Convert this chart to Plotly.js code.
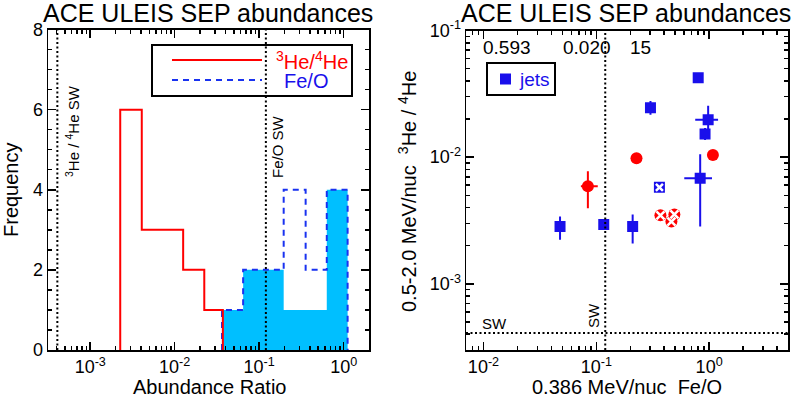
<!DOCTYPE html>
<html><head><meta charset="utf-8">
<script src="https://cdn.plot.ly/plotly-3.0.1.min.js"></script>
<style>html,body{margin:0;padding:0;background:#fff}#chart{width:793px;height:399px}</style>
</head><body><div id="chart"></div>
<script>
// ---- Left panel: histograms ----
const HE_EDGES = [0.002265, 0.004074, 0.007244, 0.01259, 0.02239, 0.03715];
const HE_COUNTS = [6, 3, 3, 2, 1];
const FEO_EDGES = [0.0363, 0.06457, 0.1148, 0.195, 0.3548, 0.631, 1.114];
const FEO_COUNTS = [1, 2, 2, 4, 2, 4];
const FEO_JET_COUNTS = [1, 2, 2, 1, 1, 4];
const SW_HE = 4.08e-4;
const SW_FEO = 0.12;

// ---- Right panel: events ----
const JET_FEO    = [0.80,   0.302,  0.98,   0.92,    0.833,   0.1164,  0.21,    0.0477];
const JET_HE     = [0.0424, 0.0245, 0.0197, 0.0152,  0.00681, 0.00294, 0.00283, 0.00283];
const JET_FEO_LO = [0.80,   0.302,  0.753,  0.92,    0.602,   0.1164,  0.21,    0.0477];
const JET_FEO_HI = [0.80,   0.302,  1.20,   0.92,    1.06,    0.1164,  0.21,    0.0477];
const JET_HE_LO  = [0.0424, 0.0216, 0.0147, 0.01365, 0.00283, 0.00294, 0.00208, 0.00223];
const JET_HE_HI  = [0.0424, 0.0278, 0.0254, 0.0170,  0.01056, 0.00294, 0.00353, 0.0034];
const JETX_FEO = [0.3625];
const JETX_HE  = [0.00578];

const RED_FEO    = [0.227,  1.08,   0.0842];
const RED_HE     = [0.0098, 0.0104, 0.00589];
const RED_FEO_LO = [0.227,  1.08,   0.073];
const RED_FEO_HI = [0.227,  1.08,   0.103];
const RED_HE_LO  = [0.0098, 0.0104, 0.00394];
const RED_HE_HI  = [0.0098, 0.0104, 0.00774];
const REDX_FEO = [0.37,   0.463,  0.492];
const REDX_HE  = [0.00347, 0.0031, 0.00353];

const STATS = ['0.593', '0.020', '15'];
const X1_TICKS = [1e-3, 1e-2, 1e-1, 1];
const X1_TEXT = ['10<sup>-3</sup>', '10<sup>-2</sup>', '10<sup>-1</sup>', '10<sup>0</sup>'];
const X2_TICKS = [1e-2, 1e-1, 1];
const X2_TEXT = ['10<sup>-2</sup>', '10<sup>-1</sup>', '10<sup>0</sup>'];
const Y2_TICKS = [1e-3, 1e-2, 1e-1];
const Y2_TEXT = ['10<sup>-3</sup>', '10<sup>-2</sup>', '10<sup>-1</sup>'];

const BLUE = 'rgb(25,15,235)';
const DBLUE = 'rgb(25,50,240)';
const RED = 'rgb(255,0,0)';
const CYAN = 'rgb(0,191,255)';
const W = 793, H = 399;
const px = x => x / W, py = y => 1 - y / H;

function stepPath(edges, counts) {
  const xs = [edges[0]], ys = [0];
  for (let i = 0; i < counts.length; i++) {
    xs.push(edges[i], edges[i + 1]);
    ys.push(counts[i], counts[i]);
  }
  xs.push(edges[edges.length - 1]); ys.push(0);
  return {xs, ys};
}
function minorVals(lo, hi) {
  const v = [];
  for (let e = lo; e <= hi; e++) for (let m = 2; m <= 9; m++) v.push(m * Math.pow(10, e));
  return v;
}
const diff = (a, b) => a.map((v, i) => v - b[i]);

const jetPath = stepPath(FEO_EDGES, FEO_JET_COUNTS);
const feoPath = stepPath(FEO_EDGES, FEO_COUNTS);
const hePath = stepPath(HE_EDGES, HE_COUNTS);

const traces = [
  {x: jetPath.xs, y: jetPath.ys, xaxis: 'x', yaxis: 'y', mode: 'lines', fill: 'toself',
   fillcolor: CYAN, line: {width: 0, color: CYAN}, hoverinfo: 'skip'},
  {x: feoPath.xs, y: feoPath.ys, xaxis: 'x', yaxis: 'y', mode: 'lines',
   line: {width: 2, color: DBLUE, dash: '6px,5px'}},
  {x: hePath.xs, y: hePath.ys, xaxis: 'x', yaxis: 'y', mode: 'lines',
   line: {width: 2, color: RED}},
  // right panel
  {x: JET_FEO, y: JET_HE, xaxis: 'x2', yaxis: 'y2', mode: 'markers',
   marker: {symbol: 'square', size: 11, color: BLUE},
   error_x: {type: 'data', symmetric: false, array: diff(JET_FEO_HI, JET_FEO), arrayminus: diff(JET_FEO, JET_FEO_LO), color: BLUE, thickness: 2, width: 0},
   error_y: {type: 'data', symmetric: false, array: diff(JET_HE_HI, JET_HE), arrayminus: diff(JET_HE, JET_HE_LO), color: BLUE, thickness: 2, width: 0}},
  {x: RED_FEO, y: RED_HE, xaxis: 'x2', yaxis: 'y2', mode: 'markers',
   marker: {symbol: 'circle', size: 12, color: RED},
   error_x: {type: 'data', symmetric: false, array: diff(RED_FEO_HI, RED_FEO), arrayminus: diff(RED_FEO, RED_FEO_LO), color: RED, thickness: 2, width: 0},
   error_y: {type: 'data', symmetric: false, array: diff(RED_HE_HI, RED_HE), arrayminus: diff(RED_HE, RED_HE_LO), color: RED, thickness: 2, width: 0}},
  {x: JETX_FEO, y: JETX_HE, xaxis: 'x2', yaxis: 'y2', mode: 'markers',
   marker: {symbol: 'square', size: 11, color: BLUE}},
  {x: JETX_FEO, y: JETX_HE, xaxis: 'x2', yaxis: 'y2', mode: 'markers',
   marker: {symbol: 'x-thin-open', size: 7, color: 'white', line: {color: 'white', width: 2.5}}},
  {x: REDX_FEO, y: REDX_HE, xaxis: 'x2', yaxis: 'y2', mode: 'markers',
   marker: {symbol: 'circle', size: 12, color: RED}},
  {x: REDX_FEO, y: REDX_HE, xaxis: 'x2', yaxis: 'y2', mode: 'markers',
   marker: {symbol: 'x-thin-open', size: 8, color: 'white', line: {color: 'white', width: 2.5}}}
];

const axCommon = {
  ticks: 'inside', ticklen: 8, tickwidth: 1.5, tickcolor: 'black',
  showline: true, linewidth: 1.5, linecolor: 'black', mirror: 'ticks',
  showgrid: false, zeroline: false, tickfont: {size: 18, color: 'black'}
};

const layout = {
  width: W, height: H, margin: {l: 0, r: 0, t: 0, b: 0},
  showlegend: false, paper_bgcolor: 'white', plot_bgcolor: 'white',
  font: {family: 'Liberation Sans, Arial, sans-serif', color: 'black', size: 18},
  xaxis: Object.assign({}, axCommon, {
    type: 'log', range: [-3.5, 0.3], domain: [px(48), px(369)], anchor: 'y',
    tickmode: 'array', tickvals: X1_TICKS, ticktext: X1_TEXT,
    minor: {tickmode: 'array', tickvals: minorVals(-4, 0), ticks: 'inside', ticklen: 4, tickwidth: 1.5, tickcolor: 'black', showgrid: false}
  }),
  yaxis: Object.assign({}, axCommon, {
    range: [0, 8], domain: [py(350), py(29.5)], anchor: 'x',
    tickmode: 'array', tickvals: [0, 2, 4, 6, 8],
    minor: {dtick: 0.5, ticks: 'inside', ticklen: 4, tickwidth: 1.5, tickcolor: 'black', showgrid: false}
  }),
  xaxis2: Object.assign({}, axCommon, {
    type: 'log', range: [Math.log10(0.007), Math.log10(5)], domain: [px(466), px(788)], anchor: 'y2',
    tickmode: 'array', tickvals: X2_TICKS, ticktext: X2_TEXT,
    minor: {tickmode: 'array', tickvals: minorVals(-3, 0), ticks: 'inside', ticklen: 4, tickwidth: 1.5, tickcolor: 'black', showgrid: false}
  }),
  yaxis2: Object.assign({}, axCommon, {
    type: 'log', range: [Math.log10(3e-4), -1], domain: [py(350), py(30.5)], anchor: 'x2',
    tickmode: 'array', tickvals: Y2_TICKS, ticktext: Y2_TEXT,
    minor: {tickmode: 'array', tickvals: minorVals(-4, -2), ticks: 'inside', ticklen: 4, tickwidth: 1.5, tickcolor: 'black', showgrid: false}
  }),
  shapes: [
    {type: 'line', xref: 'x', yref: 'y domain', x0: SW_HE, x1: SW_HE, y0: 0, y1: 1, line: {color: 'black', width: 2, dash: '2px,2.5px'}},
    {type: 'line', xref: 'x', yref: 'y domain', x0: SW_FEO, x1: SW_FEO, y0: 0, y1: 1, line: {color: 'black', width: 2, dash: '2px,2.5px'}},
    {type: 'line', xref: 'x2', yref: 'y2 domain', x0: SW_FEO, x1: SW_FEO, y0: 0, y1: 1, line: {color: 'black', width: 2, dash: '2px,2.5px'}},
    {type: 'line', xref: 'x2 domain', yref: 'y2', x0: 0, x1: 1, y0: SW_HE, y1: SW_HE, line: {color: 'black', width: 2, dash: '2px,2.5px'}},
    // legend box left
    {type: 'rect', xref: 'paper', yref: 'paper', x0: px(152), x1: px(352), y0: py(96), y1: py(45), line: {color: 'black', width: 2}, fillcolor: 'rgba(0,0,0,0)'},
    {type: 'line', xref: 'paper', yref: 'paper', x0: px(172), x1: px(262), y0: py(60), y1: py(60), line: {color: RED, width: 2}},
    {type: 'line', xref: 'paper', yref: 'paper', x0: px(172), x1: px(262), y0: py(80), y1: py(80), line: {color: DBLUE, width: 2, dash: '6px,5px'}},
    // legend box right
    {type: 'rect', xref: 'paper', yref: 'paper', x0: px(487), x1: px(555), y0: py(95), y1: py(63), line: {color: 'black', width: 2}, fillcolor: 'rgba(0,0,0,0)'},
    {type: 'rect', xref: 'paper', yref: 'paper', x0: px(500), x1: px(511), y0: py(84.5), y1: py(73.5), line: {width: 0}, fillcolor: BLUE}
  ],
  annotations: [
    {text: 'ACE ULEIS SEP abundances', x: px(208), y: py(13), font: {size: 25}},
    {text: 'ACE ULEIS SEP abundances', x: px(626), y: py(13), font: {size: 25}},
    {text: 'Frequency', x: px(11), y: py(190), textangle: -90, font: {size: 20}},
    {text: 'Abundance Ratio', x: px(209), y: py(387), font: {size: 20}},
    {text: '0.5-2.0 MeV/nuc\u00a0\u00a0<sup>3</sup>He / <sup>4</sup>He', x: px(407), y: py(192), textangle: -90, font: {size: 20}},
    {text: '0.386 MeV/nuc\u00a0\u00a0Fe/O', x: px(627), y: py(387), font: {size: 20}},
    {text: '<sup>3</sup>He / <sup>4</sup>He SW', x: px(72), y: py(131), textangle: -90, font: {size: 15}},
    {text: 'Fe/O SW', x: px(277), y: py(147), textangle: -90, font: {size: 15}},
    {text: '<sup>3</sup>He/<sup>4</sup>He', x: px(274), y: py(61), xanchor: 'left', font: {size: 20, color: RED}},
    {text: 'Fe/O', x: px(282), y: py(81), xanchor: 'left', font: {size: 20, color: BLUE}},
    {text: 'jets', x: px(517), y: py(79), xanchor: 'left', font: {size: 19, color: BLUE}},
    {text: STATS[0], x: px(507), y: py(47), font: {size: 19}},
    {text: STATS[1], x: px(587), y: py(47), font: {size: 19}},
    {text: STATS[2], x: px(640), y: py(47), font: {size: 19}},
    {text: 'SW', x: px(495), y: py(323), font: {size: 15}},
    {text: 'SW', x: px(593), y: py(316), textangle: -90, font: {size: 15}}
  ].map(a => Object.assign({xref: 'paper', yref: 'paper', showarrow: false, xanchor: 'center', yanchor: 'middle'}, a))
};

Plotly.newPlot('chart', traces, layout, {displayModeBar: false, staticPlot: true});
</script>
</body></html>
